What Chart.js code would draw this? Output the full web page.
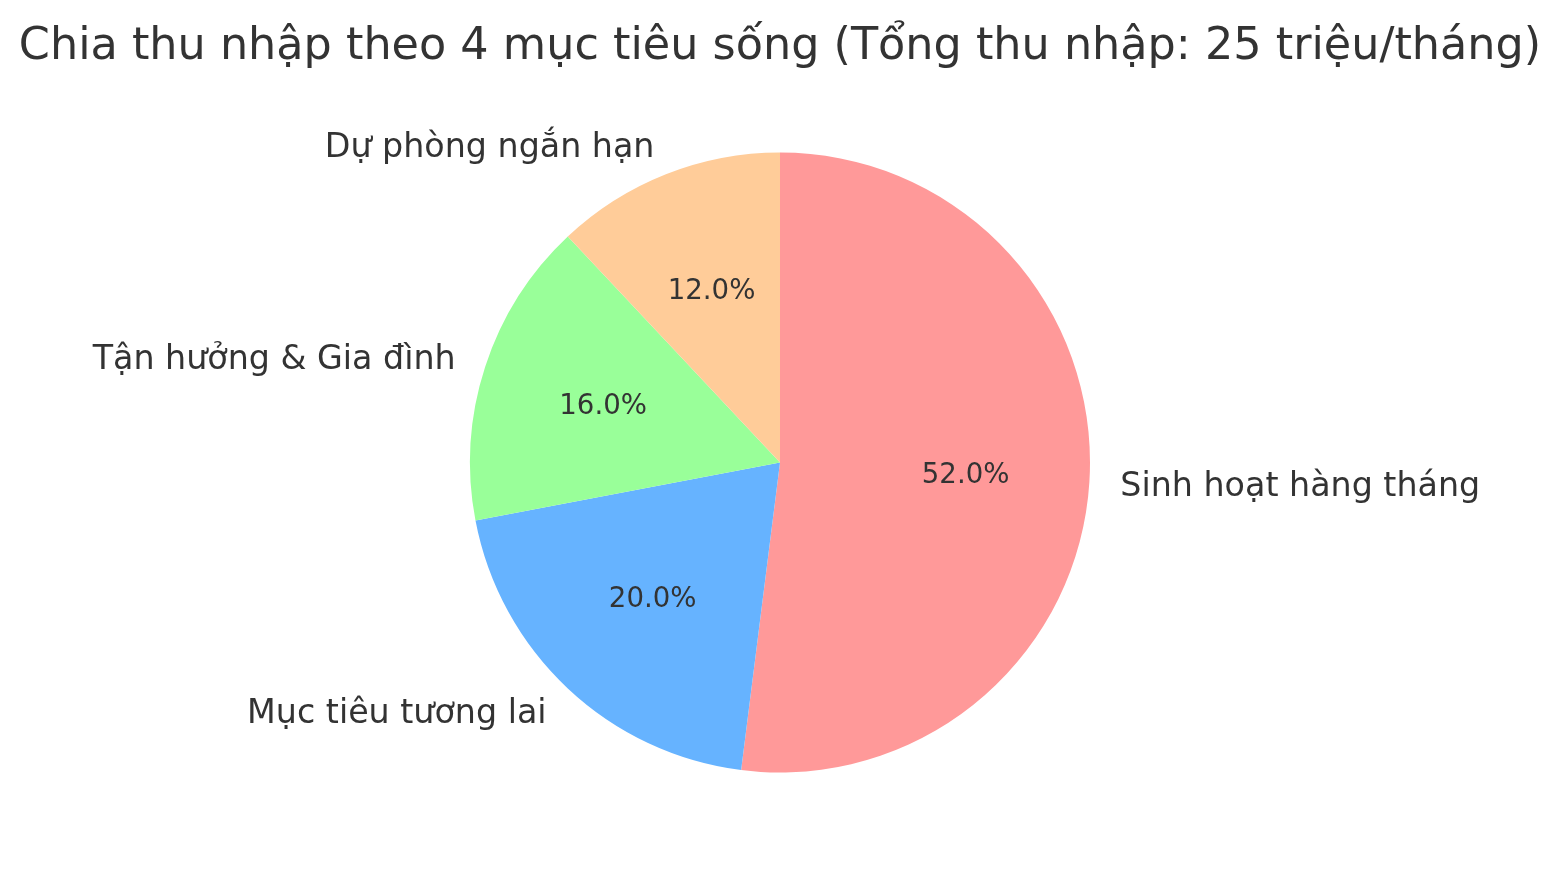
<!DOCTYPE html>
<html>
<head>
<meta charset="utf-8">
<script src="https://cdn.jsdelivr.net/npm/chart.js@4"></script>
<style>
  html, body { margin: 0; padding: 0; background: #fff; }
  #wrap { width: 1561px; height: 871px; }
</style>
</head>
<body>
<div id="wrap"><canvas id="pieChart" width="1561" height="871"></canvas></div>
<script>
// Data
const categories = ['Sinh hoạt hàng tháng', 'Mục tiêu tương lai', 'Tận hưởng & Gia đình', 'Dự phòng ngắn hạn'];
const shares = [52, 20, 16, 12];
const sliceColors = ['#ff9999', '#66b3ff', '#99ff99', '#ffcc99'];
const chartTitle = 'Chia thu nhập theo 4 mục tiêu sống (Tổng thu nhập: 25 triệu/tháng)';

const FONT = '"DejaVu Sans", sans-serif';
const TEXT_COLOR = '#333333';

// Draws the title, outer labels and percentages like matplotlib does
const pieLabels = {
  id: 'pieLabels',
  afterDraw(chart) {
    const ctx = chart.ctx;
    const meta = chart.getDatasetMeta(0);
    const total = shares.reduce((a, b) => a + b, 0);
    ctx.save();
    ctx.fillStyle = TEXT_COLOR;

    // title
    ctx.font = '44.5px ' + FONT;
    ctx.textAlign = 'center';
    ctx.textBaseline = 'middle';
    ctx.fillText(chartTitle, 780, 47);

    meta.data.forEach((arc, i) => {
      const p = arc.getProps(['x', 'y', 'startAngle', 'endAngle', 'outerRadius'], true);
      const mid = (p.startAngle + p.endAngle) / 2;
      const cos = Math.cos(mid), sin = Math.sin(mid);

      // category label at 1.1 r
      ctx.font = '33.3px ' + FONT;
      ctx.textAlign = cos > 0 ? 'left' : 'right';
      ctx.textBaseline = 'middle';
      ctx.fillText(categories[i], p.x + cos * p.outerRadius * 1.1, p.y + sin * p.outerRadius * 1.1 + 3);

      // percentage at 0.6 r
      ctx.font = '27.6px ' + FONT;
      ctx.textAlign = 'center';
      const pct = (shares[i] / total * 100).toFixed(1) + '%';
      ctx.fillText(pct, p.x + cos * p.outerRadius * 0.6, p.y + sin * p.outerRadius * 0.6 + 2);
    });
    ctx.restore();
  }
};

const ctx = document.getElementById('pieChart').getContext('2d');
new Chart(ctx, {
  type: 'pie',
  data: {
    labels: categories,
    datasets: [{
      data: shares,
      backgroundColor: sliceColors,
      borderWidth: 0
    }]
  },
  options: {
    responsive: false,
    animation: false,
    layout: {
      padding: { top: 152, bottom: 98, left: 470, right: 471 }
    },
    plugins: {
      legend: { display: false },
      title: { display: false },
      tooltip: { enabled: false }
    }
  },
  plugins: [pieLabels]
});
</script>
</body>
</html>
